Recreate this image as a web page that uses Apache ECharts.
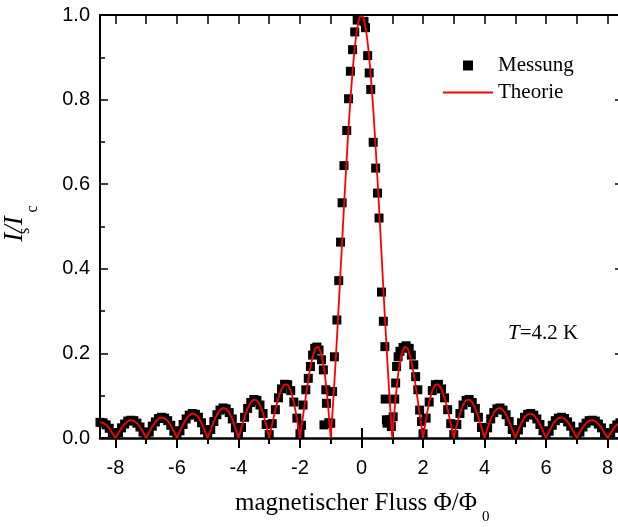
<!DOCTYPE html>
<html><head><meta charset="utf-8">
<script src="https://cdn.jsdelivr.net/npm/echarts@6/dist/echarts.min.js"></script>
<style>html,body{margin:0;padding:0;background:#fff}#c{width:618px;height:527px}</style>
</head><body><div id="c"></div>
<script>
// ---- tick labels ----
const xMajorTicks = [-8, -6, -4, -2, 0, 2, 4, 6, 8];
const xMinorTicks = [-7, -5, -3, -1, 1, 3, 5, 7];
const xAllTicks = [-8, -7, -6, -5, -4, -3, -2, -1, 0, 1, 2, 3, 4, 5, 6, 7, 8];

// ---- Theorie (red line) ----
const theoryX = [
-8.5,-8.4,-8.3,-8.2,-8.1,-8.0,-7.9,-7.8,-7.7,-7.6,-7.5,-7.4,-7.3,-7.2,-7.1,
-7.0,-6.9,-6.8,-6.7,-6.6,-6.5,-6.4,-6.3,-6.2,-6.1,
-6.0,-5.9,-5.8,-5.7,-5.6,-5.5,-5.4,-5.3,-5.2,-5.1,
-5.0,-4.9,-4.8,-4.7,-4.6,-4.5,-4.4,-4.3,-4.2,-4.1,
-4.0,-3.9,-3.8,-3.7,-3.6,-3.5,-3.4,-3.3,-3.2,-3.1,
-3.0,-2.9,-2.8,-2.7,-2.6,-2.5,-2.4,-2.3,-2.2,-2.1,
-2.0,-1.9,-1.8,-1.7,-1.6,-1.5,-1.4,-1.3,-1.2,-1.1,
-1.0,
-0.95,-0.90,-0.85,-0.80,-0.75,-0.70,-0.65,-0.60,-0.55,-0.50,-0.45,-0.40,-0.35,-0.30,-0.25,-0.20,-0.15,-0.10,-0.05,
0.0,
0.05,0.10,0.15,0.20,0.25,0.30,0.35,0.40,0.45,0.50,0.55,0.60,0.65,0.70,0.75,0.80,0.85,0.90,0.95,
1.0,1.1,1.2,1.3,1.4,1.5,1.6,1.7,1.8,1.9,
2.0,2.1,2.2,2.3,2.4,2.5,2.6,2.7,2.8,2.9,
3.0,3.1,3.2,3.3,3.4,3.5,3.6,3.7,3.8,3.9,
4.0,4.1,4.2,4.3,4.4,4.5,4.6,4.7,4.8,4.9,
5.0,5.1,5.2,5.3,5.4,5.5,5.6,5.7,5.8,5.9,
6.0,6.1,6.2,6.3,6.4,6.5,6.6,6.7,6.8,6.9,
7.0,7.1,7.2,7.3,7.4,7.5,7.6,7.7,7.8,7.9,
8.0,8.1,8.2,8.3,8.4,8.5
];
const theoryY = [
0.037,0.036,0.031,0.023,0.012,
0,0.012,0.024,0.033,0.040,0.042,0.041,0.035,0.026,0.014,
0,0.014,0.028,0.038,0.046,0.049,0.047,0.041,0.030,0.016,
0,0.017,0.032,0.045,0.054,0.058,0.056,0.049,0.036,0.019,
0,0.020,0.039,0.055,0.066,0.071,0.069,0.060,0.045,0.024,
0,0.025,0.049,0.070,0.084,0.091,0.089,0.078,0.058,0.032,
0,0.034,0.067,0.095,0.116,0.127,0.126,0.112,0.085,0.047,
0,0.052,0.104,0.151,0.189,0.212,0.216,0.198,0.156,0.089,
0,
0.052,0.109,0.170,0.234,0.300,0.368,0.436,0.505,0.572,0.637,0.699,0.757,0.810,0.858,0.900,0.935,0.963,0.984,0.996,
1.000,
0.996,0.984,0.963,0.935,0.900,0.858,0.810,0.757,0.699,0.637,0.572,0.505,0.436,0.368,0.300,0.234,0.170,0.109,0.052,
0,0.089,0.156,0.198,0.216,0.212,0.189,0.151,0.104,0.052,
0,0.047,0.085,0.112,0.126,0.127,0.116,0.095,0.067,0.034,
0,0.032,0.058,0.078,0.089,0.091,0.084,0.070,0.049,0.025,
0,0.024,0.045,0.060,0.069,0.071,0.066,0.055,0.039,0.020,
0,0.019,0.036,0.049,0.056,0.058,0.054,0.045,0.032,0.017,
0,0.016,0.030,0.041,0.047,0.049,0.046,0.038,0.028,0.014,
0,0.014,0.026,0.035,0.041,0.042,0.040,0.033,0.024,0.012,
0,0.012,0.023,0.031,0.036,0.037
];

// ---- Messung (black squares) ----
const measX = [
-8.5,-8.4,-8.3,-8.2,-8.1,-8.0,-7.9,-7.8,-7.7,-7.6,-7.5,-7.4,-7.3,-7.2,-7.1,
-7.0,-6.9,-6.8,-6.7,-6.6,-6.5,-6.4,-6.3,-6.2,-6.1,
-6.0,-5.9,-5.8,-5.7,-5.6,-5.5,-5.4,-5.3,-5.2,-5.1,
-5.0,-4.9,-4.8,-4.7,-4.6,-4.5,-4.4,-4.3,-4.2,-4.1,
-4.0,-3.9,-3.8,-3.7,-3.6,-3.5,-3.4,-3.3,-3.2,-3.1,
-3.0,-2.9,-2.8,-2.7,-2.6,-2.5,-2.4,-2.3,-2.2,-2.1,
-2.0,
-1.95,-1.90,-1.81,-1.73,-1.66,-1.59,-1.52,-1.45,-1.38,-1.30,-1.24,-1.22,-1.16,-1.14,-1.06,-1.00,
-0.94,-0.88,-0.80,-0.74,-0.68,-0.63,-0.57,-0.48,-0.42,-0.36,-0.29,-0.22,-0.14,
0.08,0.13,0.20,0.25,0.30,0.38,0.46,0.52,0.57,0.65,0.71,0.76,0.77,0.81,0.83,0.92,0.97,
1.03,1.08,1.11,1.14,1.19,1.25,1.35,1.45,1.55,1.62,1.70,1.76,1.83,1.89,1.95,
2.0,2.1,2.2,2.3,2.4,2.5,2.6,2.7,2.8,2.9,
3.0,3.1,3.2,3.3,3.4,3.5,3.6,3.7,3.8,3.9,
4.0,4.1,4.2,4.3,4.4,4.5,4.6,4.7,4.8,4.9,
5.0,5.1,5.2,5.3,5.4,5.5,5.6,5.7,5.8,5.9,
6.0,6.1,6.2,6.3,6.4,6.5,6.6,6.7,6.8,6.9,
7.0,7.1,7.2,7.3,7.4,7.5,7.6,7.7,7.8,7.9,
8.0,8.1,8.2,8.3,8.4,8.5
];
const measY = [
0.037,0.036,0.031,0.023,0.012,
0.008,0.012,0.024,0.033,0.040,0.042,0.041,0.035,0.026,0.014,
0.008,0.014,0.028,0.038,0.046,0.049,0.047,0.041,0.030,0.016,
0.008,0.017,0.032,0.045,0.054,0.058,0.056,0.049,0.036,0.019,
0.008,0.020,0.039,0.055,0.066,0.071,0.069,0.060,0.045,0.024,
0.008,0.025,0.049,0.070,0.084,0.091,0.089,0.078,0.058,0.032,
0.008,0.034,0.067,0.095,0.116,0.127,0.126,0.112,0.085,0.047,
0.010,
0.030,0.078,0.114,0.141,0.169,0.196,0.212,0.215,0.208,0.185,0.161,0.031,0.114,0.082,0.036,0.035,
0.110,0.192,0.279,0.372,0.463,0.556,0.644,0.727,0.802,0.867,0.918,0.960,0.988,
0.985,0.970,0.904,0.863,0.824,0.699,0.638,0.579,0.520,0.345,0.276,0.216,0.092,0.043,0.035,0.043,0.027,
0.050,0.092,0.130,0.169,0.192,0.205,0.214,0.218,0.212,0.196,0.173,0.145,0.114,0.066,0.039,
0.010,0.047,0.085,0.112,0.126,0.127,0.116,0.095,0.067,0.034,
0.008,0.032,0.058,0.078,0.089,0.091,0.084,0.070,0.049,0.025,
0.008,0.024,0.045,0.060,0.069,0.071,0.066,0.055,0.039,0.020,
0.008,0.019,0.036,0.049,0.056,0.058,0.054,0.045,0.032,0.017,
0.008,0.016,0.030,0.041,0.047,0.049,0.046,0.038,0.028,0.014,
0.008,0.014,0.026,0.035,0.041,0.042,0.040,0.033,0.024,0.012,
0.008,0.012,0.023,0.031,0.036,0.037
];

const SANS = '"Liberation Sans", Arial, sans-serif';
const SERIF = '"Liberation Serif", "Times New Roman", serif';
const X_MIN = -8.5, X_MAX = 8.5;

const chart = echarts.init(document.getElementById('c'), null, {renderer: 'canvas'});

function xAx(extra) {
  return Object.assign({
    type: 'value', gridIndex: 0, min: X_MIN, max: X_MAX,
    splitLine: {show: false},
    axisLabel: {show: false},
    axisLine: {show: false, onZero: false}
  }, extra);
}

const option = {
  animation: false,
  backgroundColor: '#fff',
  grid: {left: 100, top: 15, width: 523, height: 423, containLabel: false, outerBoundsMode: 'none'},
  xAxis: [
    xAx({
      position: 'bottom',
      axisLine: {show: true, onZero: false, lineStyle: {color: '#000', width: 2.5}},
      axisTick: {show: true, inside: false, length: 10, customValues: xMajorTicks, lineStyle: {color: '#000', width: 2}},
      axisLabel: {show: true, customValues: xMajorTicks, fontSize: 20, fontFamily: SANS, color: '#000', margin: 20}
    }),
    xAx({
      position: 'bottom',
      axisTick: {show: true, inside: true, length: 10, customValues: xMajorTicks, lineStyle: {color: '#000', width: 2}}
    }),
    xAx({
      position: 'bottom',
      axisTick: {show: true, inside: false, length: 6, customValues: xMinorTicks, lineStyle: {color: '#000', width: 2}}
    }),
    xAx({
      position: 'bottom',
      axisTick: {show: true, inside: true, length: 6, customValues: xMinorTicks, lineStyle: {color: '#000', width: 2}}
    }),
    xAx({
      position: 'top',
      axisLine: {show: true, onZero: false, lineStyle: {color: '#000', width: 2}},
      axisTick: {show: true, inside: true, length: 9, customValues: xAllTicks, lineStyle: {color: '#000', width: 1.5}}
    })
  ],
  yAxis: [
    {
      type: 'value', position: 'left', min: 0, max: 1, interval: 0.2,
      splitLine: {show: false},
      axisLine: {show: true, onZero: false, lineStyle: {color: '#000', width: 2}},
      axisTick: {show: true, inside: true, length: 8, lineStyle: {color: '#000', width: 1.5}},
      minorTick: {show: true, splitNumber: 2, length: 5, lineStyle: {color: '#000', width: 1.5}},
      axisLabel: {fontSize: 20, fontFamily: SANS, color: '#000', margin: 10, formatter: v => v.toFixed(1)}
    },
    {
      type: 'value', position: 'right', min: 0, max: 1, interval: 0.2,
      splitLine: {show: false},
      axisLine: {show: true, onZero: false, lineStyle: {color: '#000', width: 2}},
      axisTick: {show: true, inside: true, length: 8, lineStyle: {color: '#000', width: 1.5}},
      minorTick: {show: true, splitNumber: 2, length: 5, lineStyle: {color: '#000', width: 1.5}},
      axisLabel: {show: false}
    }
  ],
  legend: {
    left: 443, top: 55, padding: 0, orient: 'vertical', itemWidth: 50, itemHeight: 10, itemGap: 6,
    symbolKeepAspect: true,
    textStyle: {fontFamily: SERIF, fontSize: 21, color: '#000'},
    data: [
      {name: 'Messung', icon: 'path://M0,0L10,0L10,10L0,10Z'},
      {name: 'Theorie', icon: 'path://M0,0L50,0L50,2L0,2Z'}
    ]
  },
  series: [
    {
      name: 'Messung', type: 'scatter', xAxisIndex: 0, yAxisIndex: 0,
      symbol: 'rect', symbolSize: 9,
      itemStyle: {color: '#000', opacity: 1},
      data: measX.map((x, i) => [x, measY[i]]),
      z: 2
    },
    {
      name: 'Theorie', type: 'line', xAxisIndex: 0, yAxisIndex: 0,
      symbol: 'none', smooth: false,
      lineStyle: {color: '#ff0000', width: 1.8},
      itemStyle: {color: '#ff0000'},
      data: theoryX.map((x, i) => [x, theoryY[i]]),
      z: 3
    }
  ],
  graphic: [
    {type: 'text', x: 15, y: 229, rotation: Math.PI / 2,
     style: {text: 'I/I', fontFamily: SERIF, fontStyle: 'italic', fontSize: 27, fill: '#000', align: 'center', verticalAlign: 'middle'}},
    {type: 'text', x: 25, y: 231, rotation: Math.PI / 2,
     style: {text: 's', fontFamily: SERIF, fontSize: 16, fill: '#000', align: 'center', verticalAlign: 'middle'}},
    {type: 'text', x: 33, y: 209, rotation: Math.PI / 2,
     style: {text: 'c', fontFamily: SERIF, fontSize: 16, fill: '#000', align: 'center', verticalAlign: 'middle'}},
    {type: 'text', x: 235, y: 503,
     style: {text: 'magnetischer Fluss Φ/Φ', fontFamily: SERIF, fontSize: 25, fill: '#000', align: 'left', verticalAlign: 'middle'}},
    {type: 'text', x: 482, y: 517,
     style: {text: '0', fontFamily: SERIF, fontSize: 15, fill: '#000', align: 'left', verticalAlign: 'middle'}},
    {type: 'text', x: 508, y: 333,
     style: {text: '{i|T}{n|=4.2 K}', fill: '#000', align: 'left', verticalAlign: 'middle',
       rich: {
         i: {fontFamily: SERIF, fontStyle: 'italic', fontSize: 21, fill: '#000'},
         n: {fontFamily: SERIF, fontSize: 21, fill: '#000'}
       }}}
  ]
};
chart.setOption(option);
</script>
</body></html>
